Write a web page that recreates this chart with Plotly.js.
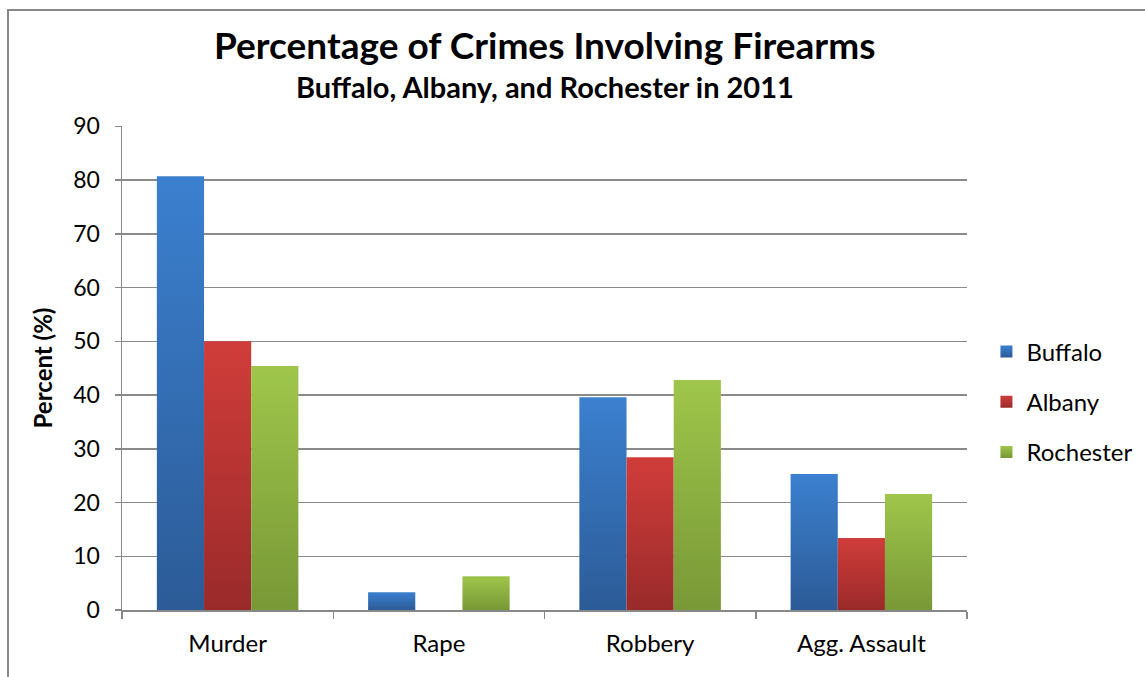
<!DOCTYPE html>
<html>
<head>
<meta charset="utf-8">
<script src="https://cdn.plot.ly/plotly-3.0.1.min.js"></script>
<style>
  html, body { margin: 0; padding: 0; background: #fff; overflow: hidden; }
  #wrap { position: relative; width: 1145px; height: 677px; overflow: hidden; }
  #chart { width: 1145px; height: 677px; }
  #frame { position: absolute; left: 7px; top: 9px; width: 1160px; height: 700px;
           border: 2px solid #888; pointer-events: none; box-sizing: border-box; }
</style>
</head>
<body>
<div id="wrap">
  <div id="chart"></div>
  <div id="frame"></div>
</div>
<script>
const categories = ["Murder", "Rape", "Robbery", "Agg. Assault"];
const seriesNames = ["Buffalo", "Albany", "Rochester"];
const buffalo = [80.7, 3.3, 39.6, 25.3];
const albany = [50.0, 0, 28.4, 13.4];
const rochester = [45.4, 6.3, 42.8, 21.6];
const yTicks = [0, 10, 20, 30, 40, 50, 60, 70, 80, 90];

const colors = ["#3572bb", "#b93533", "#8baf43"];
const gradStops = [["#3b80cf", "#2c5b97"], ["#d03d3a", "#9a2a2a"], ["#9fc64b", "#789836"]];
const FONT = "Lato, 'Open Sans', sans-serif";

const seriesValues = [buffalo, albany, rochester];
const traces = seriesValues.map((vals, i) => ({
  type: "bar",
  name: seriesNames[i],
  x: categories,
  y: vals,
  legendgroup: "g" + i,
  marker: { color: colors[i], line: { width: 0 } },
  hoverinfo: "x+y+name"
}));

const layout = {
  width: 1145,
  height: 677,
  margin: { l: 122, r: 178, t: 126, b: 67, autoexpand: false },
  paper_bgcolor: "#fff",
  plot_bgcolor: "#fff",
  font: { family: FONT, color: "#000", size: 19 },
  barmode: "group",
  bargap: 0.33,
  bargroupgap: 0,
  showlegend: true,
  legend: {
    x: 1.023, xanchor: "left", y: 0.43, yanchor: "middle",
    font: { family: FONT, size: 24, color: "#000" },
    traceorder: "grouped",
    tracegroupgap: 16,
    itemwidth: 30,
    bgcolor: "rgba(0,0,0,0)"
  },
  xaxis: {
    type: "category",
    showline: true, linecolor: "#888", linewidth: 1.5,
    ticks: "outside", ticklen: 7, tickcolor: "#888", tickwidth: 1.5,
    tickson: "boundaries",
    ticklabelstandoff: 12,
    showgrid: false,
    automargin: false,
    tickfont: { family: FONT, size: 24, color: "#000" },
    fixedrange: true
  },
  yaxis: {
    range: [0, 90.05],
    tickvals: yTicks,
    ticktext: yTicks.map(String),
    showline: true, linecolor: "#888", linewidth: 1.5,
    ticks: "outside", ticklen: 6, tickcolor: "#888", tickwidth: 1.5,
    ticklabelstandoff: 10,
    showgrid: true, gridcolor: "#8a8a8a", gridwidth: 1.5,
    zeroline: false,
    automargin: false,
    tickfont: { family: FONT, size: 23, color: "#000" },
    title: { text: "<b>Percent (%)</b>", font: { family: FONT, size: 24, color: "#000" }, standoff: 14 },
    fixedrange: true
  },
  annotations: [
    { text: "<b>Percentage of Crimes Involving Firearms</b>", xref: "paper", yref: "paper",
      x: 0.5, y: 1, yanchor: "bottom", yshift: 57, showarrow: false,
      font: { family: FONT, size: 37, color: "#000" } },
    { text: "<b>Buffalo, Albany, and Rochester in 2011</b>", xref: "paper", yref: "paper",
      x: 0.5, y: 1, yanchor: "bottom", yshift: 20, showarrow: false,
      font: { family: FONT, size: 29, color: "#000" } }
  ]
};

Plotly.newPlot("chart", traces, layout, { staticPlot: true, displayModeBar: false }).then(gd => {
  const svgNS = "http://www.w3.org/2000/svg";
  const svg = gd.querySelector(".main-svg");
  let defs = svg.querySelector("defs");
  if (!defs) { defs = document.createElementNS(svgNS, "defs"); svg.insertBefore(defs, svg.firstChild); }
  gradStops.forEach((st, i) => {
    const g = document.createElementNS(svgNS, "linearGradient");
    g.setAttribute("id", "barGrad" + i);
    g.setAttribute("x1", "0"); g.setAttribute("y1", "0");
    g.setAttribute("x2", "0"); g.setAttribute("y2", "1");
    [[0, st[0]], [1, st[1]]].forEach(([o, c]) => {
      const s = document.createElementNS(svgNS, "stop");
      s.setAttribute("offset", o); s.setAttribute("stop-color", c);
      g.appendChild(s);
    });
    defs.appendChild(g);
  });
  gd.querySelectorAll(".barlayer .trace.bars").forEach((tr, i) => {
    tr.querySelectorAll("path").forEach(p => { p.style.fill = "url(#barGrad" + i + ")"; });
  });
  gd.querySelectorAll(".legend .traces").forEach((tr, i) => {
    tr.querySelectorAll(".legendpoints path").forEach(p => { p.style.fill = "url(#barGrad" + i + ")"; });
  });
});
</script>
</body>
</html>
